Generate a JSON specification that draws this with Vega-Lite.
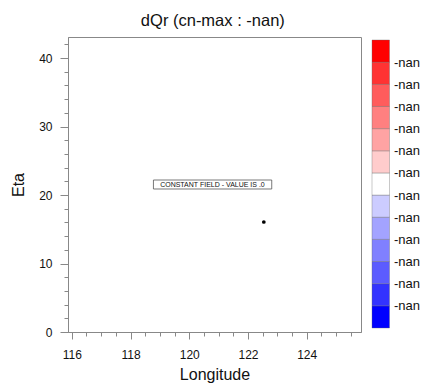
{
  "$schema": "https://vega.github.io/schema/vega-lite/v6.json",
  "background": "white",
  "padding": {"left": 10, "top": 13, "right": 5, "bottom": 5},
  "title": {"text": "dQr (cn-max : -nan)", "fontSize": 16.5, "font": "Liberation Sans", "fontWeight": "normal", "color": "#111", "anchor": "middle", "dx": -2, "offset": 7},
  "config": {
    "font": "Liberation Sans",
    "view": {"stroke": null},
    "axis": {"labelFont": "Liberation Sans", "titleFont": "Liberation Sans", "labelColor": "#111", "titleColor": "#111", "titleFontWeight": "normal", "domainColor": "#888", "tickColor": "#888", "grid": false}
  },
  "spacing": 9,
  "hconcat": [
    {
      "width": 293,
      "height": 295,
      "view": {"stroke": "#888", "strokeWidth": 1},
      "layer": [
        {
          "data": {"values": [{"lon": 122.54, "eta": 16.06}]},
          "mark": {"type": "circle", "size": 14, "color": "black", "opacity": 1},
          "encoding": {
            "x": {"field": "lon", "type": "quantitative", "scale": {"domain": [115.87, 125.85], "nice": false, "zero": false},
                  "axis": {"orient": "bottom", "values": [116, 118, 120, 122, 124], "title": "Longitude", "titleFontSize": 16, "labelFontSize": 12, "tickSize": 7, "labelPadding": 10, "titlePadding": 6, "format": "d"}},
            "y": {"field": "eta", "type": "quantitative", "scale": {"domain": [0, 43.07], "nice": false, "zero": false},
                  "axis": {"orient": "left", "values": [0, 10, 20, 30, 40], "title": "Eta", "titleFontSize": 16, "labelFontSize": 12, "tickSize": 8, "labelPadding": 8, "titlePadding": 12}}
          }
        },
        {
          "data": {"values": [{"x1": 118.78, "x2": 122.81, "y1": 20.88, "y2": 22.19}]},
          "mark": {"type": "rect", "fill": "white", "stroke": "#555", "strokeWidth": 0.8},
          "encoding": {
            "x": {"field": "x1", "type": "quantitative",
                  "axis": {"orient": "bottom", "values": [116.5, 117, 117.5, 118.5, 119, 119.5, 120.5, 121, 121.5, 122.5, 123, 123.5, 124.5, 125, 125.5], "labels": false, "domain": false, "tickSize": 4, "title": null}},
            "x2": {"field": "x2"},
            "y": {"field": "y1", "type": "quantitative",
                  "axis": {"orient": "left", "values": [2, 4, 6, 8, 12, 14, 16, 18, 22, 24, 26, 28, 32, 34, 36, 38, 42], "labels": false, "domain": false, "tickSize": 4, "title": null}},
            "y2": {"field": "y2"}
          }
        },
        {
          "data": {"values": [{"lon": 120.79, "eta": 21.53, "label": "CONSTANT FIELD - VALUE IS .0"}]},
          "mark": {"type": "text", "fontSize": 7, "font": "Liberation Sans", "color": "#111", "baseline": "middle", "align": "center"},
          "encoding": {
            "x": {"field": "lon", "type": "quantitative", "axis": null},
            "y": {"field": "eta", "type": "quantitative", "axis": null},
            "text": {"field": "label"}
          }
        }
      ],
      "resolve": {"axis": {"x": "independent", "y": "independent"}}
    },
    {
      "width": 17.5,
      "height": 295,
      "data": {"values": [
        {"lo": 0, "hi": 1, "c": "#0000FF"},
        {"lo": 1, "hi": 2, "c": "#3333FF"},
        {"lo": 2, "hi": 3, "c": "#5C5CFF"},
        {"lo": 3, "hi": 4, "c": "#8080FF"},
        {"lo": 4, "hi": 5, "c": "#A3A3FF"},
        {"lo": 5, "hi": 6, "c": "#CCCCFF"},
        {"lo": 6, "hi": 7, "c": "#FFFFFF"},
        {"lo": 7, "hi": 8, "c": "#FFCCCC"},
        {"lo": 8, "hi": 9, "c": "#FFA3A3"},
        {"lo": 9, "hi": 10, "c": "#FF8080"},
        {"lo": 10, "hi": 11, "c": "#FF5C5C"},
        {"lo": 11, "hi": 12, "c": "#FF3333"},
        {"lo": 12, "hi": 13, "c": "#FF0000"}
      ]},
      "mark": {"type": "rect", "stroke": "#666", "strokeWidth": 0.6, "strokeOpacity": 0.6},
      "encoding": {
        "y": {"field": "lo", "type": "quantitative", "scale": {"domain": [-0.18, 13.135], "nice": false, "zero": false},
              "axis": {"orient": "right", "values": [1, 2, 3, 4, 5, 6, 7, 8, 9, 10, 11, 12], "labelExpr": "'-nan'", "domain": false, "ticks": false, "title": null, "labelFontSize": 13, "labelPadding": 4}},
        "y2": {"field": "hi"},
        "color": {"field": "c", "type": "nominal", "scale": null}
      }
    }
  ]
}
